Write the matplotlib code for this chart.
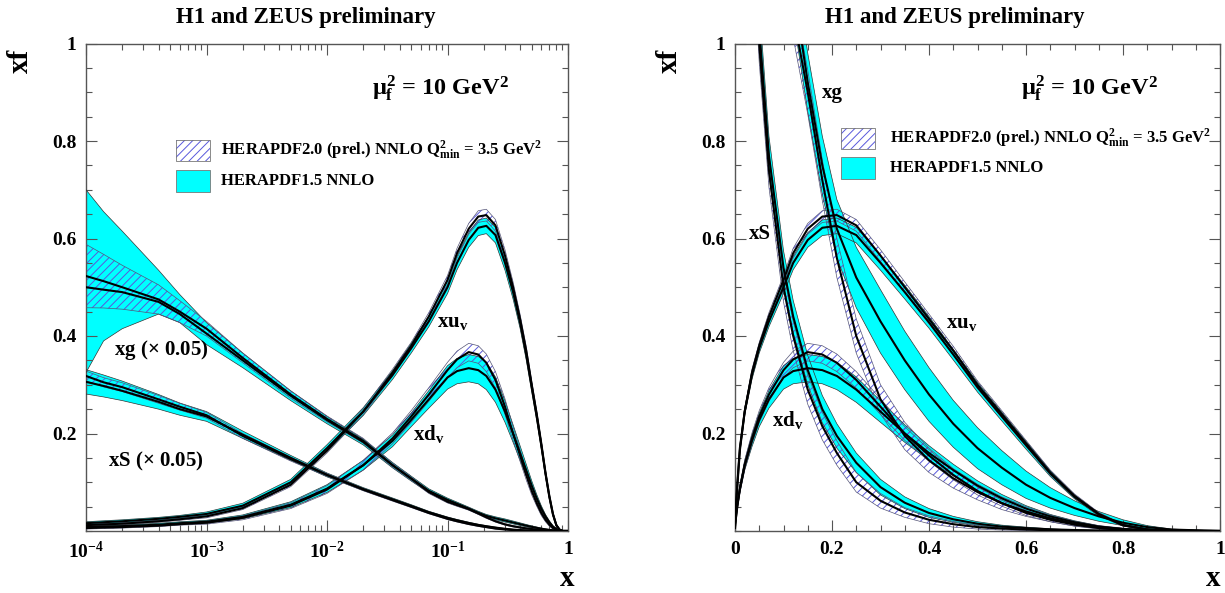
import numpy as np
import matplotlib
matplotlib.use("Agg")
import matplotlib.pyplot as plt
from matplotlib.patches import Rectangle
from matplotlib.ticker import LogLocator, MultipleLocator, NullFormatter

plt.rcParams['font.family'] = ['Liberation Serif', 'DejaVu Serif']
plt.rcParams['font.weight'] = 'bold'
plt.rcParams['mathtext.fontset'] = 'custom'
plt.rcParams['mathtext.rm'] = 'Liberation Serif:bold'
plt.rcParams['mathtext.it'] = 'Liberation Serif:bold'
plt.rcParams['mathtext.bf'] = 'Liberation Serif:bold'
plt.rcParams['hatch.linewidth'] = 0.7

# ---------------- data (x f at mu_f^2 = 10 GeV^2) ----------------
X = [1e-4, 1.4e-4, 2e-4, 4e-4, 6e-4, 1e-3, 2e-3, 5e-3, 0.01, 0.02, 0.035, 0.05, 0.07, 0.1, 0.12, 0.15, 0.18,
     0.21, 0.25, 0.3, 0.35, 0.4, 0.45, 0.5, 0.55, 0.6, 0.65, 0.7, 0.75, 0.8, 0.85, 0.9, 1.0]

XUV_20 = [0.012, 0.0135, 0.015, 0.020, 0.024, 0.030, 0.047, 0.095, 0.165, 0.245, 0.325, 0.38, 0.44, 0.515, 0.57,
          0.62, 0.645, 0.648, 0.627, 0.565, 0.50, 0.435, 0.37, 0.30, 0.24, 0.18, 0.12, 0.072, 0.035, 0.012, 0.003,
          0.0, 0.0]
XUV_20_ERR = [0.002, 0.002, 0.002, 0.002, 0.002, 0.003, 0.003, 0.004, 0.005, 0.006, 0.007, 0.007, 0.008, 0.009,
              0.010, 0.011, 0.012, 0.012, 0.012, 0.012, 0.011, 0.010, 0.009, 0.008, 0.007, 0.006, 0.005, 0.004,
              0.003, 0.002, 0.001, 0.0, 0.0]
XUV_15 = [0.016, 0.018, 0.020, 0.025, 0.029, 0.035, 0.052, 0.10, 0.17, 0.245, 0.32, 0.375, 0.43, 0.50, 0.55, 0.597,
          0.622, 0.626, 0.607, 0.55, 0.49, 0.428, 0.362, 0.295, 0.235, 0.176, 0.118, 0.07, 0.034, 0.012, 0.003,
          0.0, 0.0]
XUV_15_ERR = [0.003, 0.003, 0.003, 0.003, 0.003, 0.004, 0.005, 0.006, 0.007, 0.008, 0.009, 0.010, 0.011, 0.013,
              0.014, 0.015, 0.016, 0.016, 0.016, 0.015, 0.014, 0.012, 0.011, 0.010, 0.009, 0.008, 0.006, 0.004,
              0.003, 0.002, 0.001, 0.0, 0.0]

XDV_20 = [0.006, 0.007, 0.008, 0.011, 0.014, 0.017, 0.027, 0.052, 0.085, 0.135, 0.19, 0.235, 0.28, 0.33, 0.352,
          0.367, 0.362, 0.345, 0.31, 0.255, 0.20, 0.155, 0.115, 0.082, 0.057, 0.037, 0.023, 0.013, 0.006, 0.002,
          0.0005, 0.0, 0.0]
XDV_20_ERR = [0.002, 0.002, 0.002, 0.002, 0.002, 0.003, 0.004, 0.006, 0.008, 0.010, 0.011, 0.012, 0.014, 0.016,
              0.017, 0.018, 0.018, 0.018, 0.017, 0.016, 0.014, 0.012, 0.010, 0.008, 0.006, 0.005, 0.004, 0.003,
              0.002, 0.001, 0.0, 0.0, 0.0]
XDV_15 = [0.008, 0.009, 0.010, 0.013, 0.016, 0.019, 0.029, 0.054, 0.087, 0.135, 0.185, 0.228, 0.27, 0.315, 0.328,
          0.334, 0.33, 0.318, 0.29, 0.245, 0.20, 0.16, 0.125, 0.093, 0.067, 0.046, 0.030, 0.018, 0.009, 0.004,
          0.001, 0.0, 0.0]
XDV_15_ERR = [0.002, 0.002, 0.002, 0.003, 0.003, 0.003, 0.004, 0.006, 0.008, 0.010, 0.012, 0.014, 0.018, 0.024,
              0.026, 0.028, 0.028, 0.028, 0.026, 0.022, 0.018, 0.015, 0.012, 0.010, 0.008, 0.006, 0.004, 0.003,
              0.002, 0.001, 0.0, 0.0, 0.0]

XS_20 = [6.36, 6.1, 5.9, 5.4, 5.1, 4.75, 3.9, 2.95, 2.3, 1.7, 1.27, 1.0, 0.74, 0.50, 0.40, 0.29, 0.215, 0.16,
         0.10, 0.062, 0.038, 0.023, 0.014, 0.008, 0.005, 0.003, 0.0015, 0.0008, 0.0004, 0.0002, 0.0001, 0.0, 0.0]
XS_20_ERR = [0.2, 0.19, 0.18, 0.16, 0.14, 0.12, 0.10, 0.08, 0.06, 0.05, 0.045, 0.04, 0.035, 0.03, 0.03, 0.03,
             0.028, 0.025, 0.02, 0.015, 0.01, 0.008, 0.006, 0.004, 0.003, 0.002, 0.001, 0.0, 0.0, 0.0, 0.0, 0.0,
             0.0]
XS_15 = [6.12, 5.95, 5.75, 5.3, 5.0, 4.7, 3.95, 3.0, 2.3, 1.72, 1.3, 1.03, 0.77, 0.54, 0.44, 0.33, 0.25, 0.195,
         0.14, 0.09, 0.058, 0.037, 0.024, 0.015, 0.009, 0.006, 0.0035, 0.002, 0.001, 0.0005, 0.0002, 0.0, 0.0]
XS_15_ERR = [0.5, 0.45, 0.4, 0.3, 0.25, 0.2, 0.15, 0.10, 0.08, 0.06, 0.055, 0.05, 0.04, 0.035, 0.033, 0.03, 0.028,
             0.025, 0.02, 0.016, 0.012, 0.009, 0.006, 0.004, 0.003, 0.002, 0.001, 0.0, 0.0, 0.0, 0.0, 0.0, 0.0]

XG_20 = [10.46, 10.25, 10.0, 9.5, 9.0, 8.3, 7.1, 5.6, 4.6, 3.7, 2.7, 2.15, 1.6, 1.2, 1.06, 0.9, 0.72, 0.56,
         0.40, 0.27, 0.195, 0.145, 0.108, 0.08, 0.057, 0.04, 0.026, 0.015, 0.008, 0.004, 0.0015, 0.0004, 0.0]
XG_20_ERR = [1.3, 1.1, 0.9, 0.6, 0.45, 0.3, 0.2, 0.15, 0.12, 0.10, 0.085, 0.075, 0.06, 0.05, 0.048, 0.045, 0.042,
             0.04, 0.035, 0.03, 0.028, 0.025, 0.02, 0.016, 0.013, 0.01, 0.007, 0.005, 0.003, 0.002, 0.001, 0.0,
             0.0]
XG_15 = [10.0, 9.9, 9.8, 9.4, 8.9, 8.1, 7.0, 5.55, 4.55, 3.65, 2.7, 2.15, 1.65, 1.28, 1.12, 0.92, 0.75, 0.62,
         0.52, 0.43, 0.35, 0.28, 0.22, 0.17, 0.13, 0.095, 0.068, 0.047, 0.03, 0.017, 0.008, 0.003, 0.0]
XG_15_ERR_UP = [4.0, 3.2, 2.5, 1.3, 0.8, 0.45, 0.3, 0.2, 0.15, 0.12, 0.11, 0.10, 0.08, 0.07, 0.065, 0.06, 0.06,
                0.06, 0.062, 0.065, 0.06, 0.055, 0.048, 0.042, 0.035, 0.028, 0.021, 0.015, 0.01, 0.006, 0.003,
                0.001, 0.0]
XG_15_ERR_DN = [3.5, 2.1, 1.5, 0.5, 0.35, 0.45, 0.3, 0.2, 0.15, 0.12, 0.11, 0.10, 0.08, 0.07, 0.065, 0.06, 0.06,
                0.06, 0.062, 0.065, 0.06, 0.055, 0.048, 0.042, 0.035, 0.028, 0.021, 0.015, 0.01, 0.006, 0.003,
                0.001, 0.0]

SEA_GLUON_SCALE = 0.05
TITLE = "H1 and ZEUS preliminary"
LEG20 = r"HERAPDF2.0 (prel.) NNLO Q$^{2}_{min}$ = 3.5 GeV$^{2}$"
LEG15 = "HERAPDF1.5 NNLO"
SCALE_TXT = r"$\mu^{2}_{f}$ = 10 GeV$^{2}$"

CYAN = "#00ffff"
HATCH = "#5858dc"

W, H = 1225, 593
fig = plt.figure(figsize=(W / 100, H / 100), dpi=100)


def fx(px):
    return px / W


def fy(py):
    return 1 - py / H


ax1 = fig.add_axes([fx(86), fy(531), 482 / W, 487.5 / H])
ax2 = fig.add_axes([fx(735), fy(531), 485 / W, 487.5 / H])

x = np.array(X)
# (central 2.0, err 2.0 down, err 2.0 up, central 1.5, err 1.5 down, err 1.5 up, scale in log panel)
families = [
    (XUV_20, XUV_20_ERR, XUV_20_ERR, XUV_15, XUV_15_ERR, XUV_15_ERR, 1.0),
    (XDV_20, XDV_20_ERR, XDV_20_ERR, XDV_15, XDV_15_ERR, XDV_15_ERR, 1.0),
    (XS_20, XS_20_ERR, XS_20_ERR, XS_15, XS_15_ERR, XS_15_ERR, SEA_GLUON_SCALE),
    (XG_20, XG_20_ERR, XG_20_ERR, XG_15, XG_15_ERR_DN, XG_15_ERR_UP, SEA_GLUON_SCALE),
]

for ax, logx in ((ax1, True), (ax2, False)):
    for c20, d20, u20, c15, d15, u15, sc in families:
        s = sc if logx else 1.0
        c20 = np.array(c20) * s
        lo20 = c20 - np.array(d20) * s
        hi20 = c20 + np.array(u20) * s
        c15 = np.array(c15) * s
        lo15 = c15 - np.array(d15) * s
        hi15 = c15 + np.array(u15) * s
        ax.fill_between(x, lo15, hi15, facecolor=CYAN, edgecolor='none', lw=0, zorder=1)
        ax.fill_between(x, lo20, hi20, facecolor='none', edgecolor=HATCH, lw=0,
                        hatch='////', zorder=2)
        for y in (lo15, hi15):
            ax.plot(x, y, color='#333333', lw=0.5, zorder=3)
        for y in (lo20, hi20):
            ax.plot(x, y, color='#555577', lw=0.5, zorder=3)
        ax.plot(x, c15, color='black', lw=1.5, zorder=4)
        ax.plot(x, c20, color='black', lw=1.5, zorder=4)

    ax.set_ylim(0, 1)
    ax.yaxis.set_minor_locator(MultipleLocator(0.05))
    ax.set_yticks([0.2, 0.4, 0.6, 0.8, 1.0], labels=['0.2', '0.4', '0.6', '0.8', '1'])
    ax.tick_params(which='both', direction='in', top=True, right=True, color='#555555',
                   labelsize=14, pad=7)
    ax.tick_params(which='major', length=8, width=0.8)
    ax.tick_params(which='minor', length=4, width=0.8)
    for sp in ax.spines.values():
        sp.set_color('#555555')
        sp.set_linewidth(1.0)

ax1.set_xscale('log')
ax1.set_xlim(1e-4, 1)
ax1.set_xticks([1e-4, 1e-3, 1e-2, 1e-1, 1],
               labels=[r'$10^{-4}$', r'$10^{-3}$', r'$10^{-2}$', r'$10^{-1}$', '1'])
ax1.xaxis.set_minor_locator(LogLocator(base=10, subs=np.arange(2, 10), numticks=20))
ax1.xaxis.set_minor_formatter(NullFormatter())

ax2.set_xlim(0, 1)
ax2.set_xticks([0, 0.2, 0.4, 0.6, 0.8, 1.0], labels=['0', '0.2', '0.4', '0.6', '0.8', '1'])
ax2.xaxis.set_minor_locator(MultipleLocator(0.05))

# texts
for off in (0, 649):
    fig.text(fx(306 + off), fy(18), TITLE, ha='center', va='center', fontsize=16.5, fontweight='bold')
    fig.text(fx(20 + off), fy(61), 'xf', ha='center', va='center', rotation=90, fontsize=21,
             fontweight='bold')
fig.text(fx(567), fy(578), 'x', ha='center', va='center', fontsize=21, fontweight='bold')
fig.text(fx(1213), fy(578), 'x', ha='center', va='center', fontsize=21, fontweight='bold')

fig.text(fx(441), fy(88), SCALE_TXT, ha='center', va='center', fontsize=17.5)
fig.text(fx(1090), fy(88), SCALE_TXT, ha='center', va='center', fontsize=17.5)

# legends
for (bx, by1, by2, tx) in ((176, 140, 170, 221), (841, 128, 157, 890)):
    r1 = Rectangle((fx(bx), fy(by1 + 21)), 34 / W, 21 / H, transform=fig.transFigure,
                   facecolor='none', edgecolor=HATCH, hatch='////', lw=0)
    r1b = Rectangle((fx(bx), fy(by1 + 21)), 34 / W, 21 / H, transform=fig.transFigure,
                    facecolor='none', edgecolor='#777777', lw=0.6)
    r2 = Rectangle((fx(bx), fy(by2 + 22)), 34 / W, 22 / H, transform=fig.transFigure,
                   facecolor=CYAN, edgecolor='#777777', lw=0.6)
    for r in (r1, r1b, r2):
        fig.add_artist(r)
    fig.text(fx(tx), fy(by1 + 10), LEG20, ha='left', va='center', fontsize=12)
    fig.text(fx(tx), fy(by2 + 11), LEG15, ha='left', va='center', fontsize=12)

# curve labels
fig.text(fx(161), fy(350), r'xg ($\times$ 0.05)', ha='center', va='center', fontsize=15)
fig.text(fx(156), fy(461), r'xS ($\times$ 0.05)', ha='center', va='center', fontsize=15)
fig.text(fx(453), fy(322), r'xu$_{v}$', ha='center', va='center', fontsize=15)
fig.text(fx(429), fy(434), r'xd$_{v}$', ha='center', va='center', fontsize=15)
fig.text(fx(832), fy(93), 'xg', ha='center', va='center', fontsize=15)
fig.text(fx(760), fy(234), 'xS', ha='center', va='center', fontsize=15)
fig.text(fx(962), fy(323), r'xu$_{v}$', ha='center', va='center', fontsize=15)
fig.text(fx(788), fy(420), r'xd$_{v}$', ha='center', va='center', fontsize=15)

fig.savefig('out.png', dpi=100)
